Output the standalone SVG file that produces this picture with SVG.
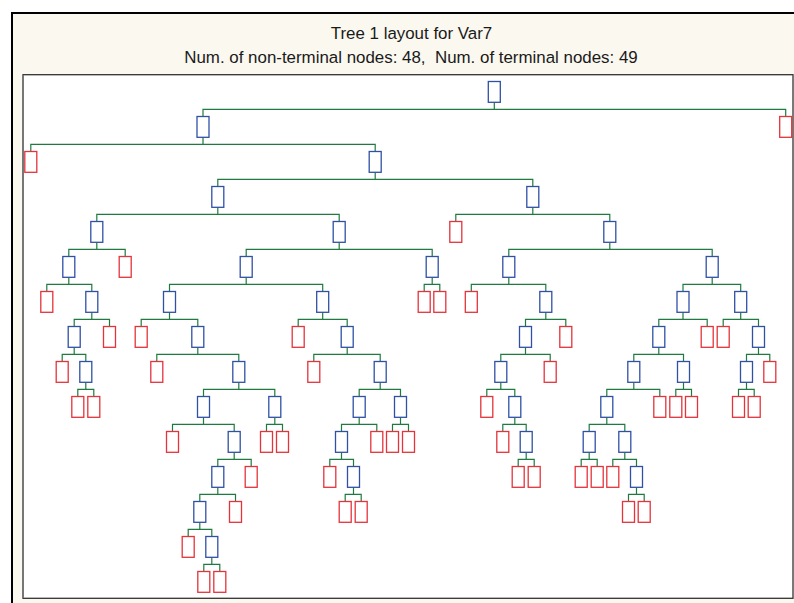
<svg xmlns="http://www.w3.org/2000/svg" width="794" height="603" viewBox="0 0 794 603">
<style>
  .title { font-family: "Liberation Sans", Arial, sans-serif; font-size: 16.9px; fill: #1a1a1a; text-anchor: middle; }
  .b rect { fill: #ffffff; stroke: #3050a6; stroke-width: 1.3; }
  .r rect { fill: #ffffff; stroke: #e5333b; stroke-width: 1.3; }
  #connectors path { fill: none; stroke: #1f7a40; stroke-width: 1.2; }
</style>
<rect x="0" y="0" width="794" height="603" fill="#ffffff"/>
<!-- outer panel -->
<rect x="12" y="13" width="800" height="600" fill="#fbf8f0" stroke="#000000" stroke-width="2"/>
<text class="title" x="411.5" y="39">Tree 1 layout for Var7</text>
<text class="title" x="411" y="62.8" xml:space="preserve">Num. of non-terminal nodes: 48,  Num. of terminal nodes: 49</text>
<!-- plot area -->
<rect x="23" y="74.7" width="770" height="523.6" fill="#ffffff" stroke="#333333" stroke-width="1.3"/>
<line x1="23" y1="75" x2="23" y2="598" stroke="#777777" stroke-width="1.6"/>

<g id="connectors">
  <!-- level 0 -->
  <path d="M203 116.5 V109.3 H785.7 V116.5 M494.3 102.3 V109.3"/>
  <!-- level 1 -->
  <path d="M30.8 151.5 V144.3 H375.2 V151.5 M203 137.3 V144.3"/>
  <!-- level 2 -->
  <path d="M217.8 186.5 V179.3 H532.8 V186.5 M375.2 172.3 V179.3"/>
  <!-- level 3 -->
  <path d="M96.8 221.5 V214.3 H339.2 V221.5 M217.8 207.3 V214.3"/>
  <path d="M455.8 221.5 V214.3 H609.8 V221.5 M532.8 207.3 V214.3"/>
  <!-- level 4 -->
  <path d="M68.8 256.5 V249.3 H125.2 V256.5 M96.8 242.3 V249.3"/>
  <path d="M246.2 256.5 V249.3 H432.2 V256.5 M339.2 242.3 V249.3"/>
  <path d="M508.8 256.5 V249.3 H712.2 V256.5 M609.8 242.3 V249.3"/>
  <!-- level 5 -->
  <path d="M46.8 291.5 V284.3 H91.8 V291.5 M68.8 277.3 V284.3"/>
  <path d="M169.5 291.5 V284.3 H322.7 V291.5 M246.2 277.3 V284.3"/>
  <path d="M424.2 291.5 V284.3 H439.8 V291.5 M432.2 277.3 V284.3"/>
  <path d="M471.3 291.5 V284.3 H545.8 V291.5 M508.8 277.3 V284.3"/>
  <path d="M683 291.5 V284.3 H740.7 V291.5 M712.2 277.3 V284.3"/>
  <!-- level 6 -->
  <path d="M74.2 326.5 V319.3 H109.5 V326.5 M91.8 312.3 V319.3"/>
  <path d="M141.2 326.5 V319.3 H197.8 V326.5 M169.5 312.3 V319.3"/>
  <path d="M298.2 326.5 V319.3 H347.2 V326.5 M322.7 312.3 V319.3"/>
  <path d="M525.5 326.5 V319.3 H565.8 V326.5 M545.8 312.3 V319.3"/>
  <path d="M658.8 326.5 V319.3 H707.2 V326.5 M683 312.3 V319.3"/>
  <path d="M723.2 326.5 V319.3 H758.5 V326.5 M740.7 312.3 V319.3"/>
  <!-- level 7 -->
  <path d="M62.2 361.5 V354.3 H85.8 V361.5 M74.2 347.3 V354.3"/>
  <path d="M156.8 361.5 V354.3 H238.8 V361.5 M197.8 347.3 V354.3"/>
  <path d="M313.8 361.5 V354.3 H380.2 V361.5 M347.2 347.3 V354.3"/>
  <path d="M500.8 361.5 V354.3 H550.2 V361.5 M525.5 347.3 V354.3"/>
  <path d="M633.8 361.5 V354.3 H683.5 V361.5 M658.8 347.3 V354.3"/>
  <path d="M746.5 361.5 V354.3 H769.8 V361.5 M758.5 347.3 V354.3"/>
  <!-- level 8 -->
  <path d="M77.8 396.5 V389.3 H93.8 V396.5 M85.8 382.3 V389.3"/>
  <path d="M203.5 396.5 V389.3 H274.8 V396.5 M238.8 382.3 V389.3"/>
  <path d="M359.2 396.5 V389.3 H400.5 V396.5 M380.2 382.3 V389.3"/>
  <path d="M486.8 396.5 V389.3 H514.8 V396.5 M500.8 382.3 V389.3"/>
  <path d="M606.8 396.5 V389.3 H659.8 V396.5 M633.8 382.3 V389.3"/>
  <path d="M675.8 396.5 V389.3 H691.5 V396.5 M683.5 382.3 V389.3"/>
  <path d="M738.5 396.5 V389.3 H754.2 V396.5 M746.5 382.3 V389.3"/>
  <!-- level 9 -->
  <path d="M172.5 431.5 V424.3 H234.2 V431.5 M203.5 417.3 V424.3"/>
  <path d="M266.5 431.5 V424.3 H282.5 V431.5 M274.8 417.3 V424.3"/>
  <path d="M341.5 431.5 V424.3 H376.8 V431.5 M359.2 417.3 V424.3"/>
  <path d="M392.5 431.5 V424.3 H408.5 V431.5 M400.5 417.3 V424.3"/>
  <path d="M502.8 431.5 V424.3 H526.2 V431.5 M514.8 417.3 V424.3"/>
  <path d="M589.2 431.5 V424.3 H624.8 V431.5 M606.8 417.3 V424.3"/>
  <!-- level 10 -->
  <path d="M217.8 466.5 V459.3 H251.2 V466.5 M234.2 452.3 V459.3"/>
  <path d="M329.8 466.5 V459.3 H353.5 V466.5 M341.5 452.3 V459.3"/>
  <path d="M518.2 466.5 V459.3 H534.2 V466.5 M526.2 452.3 V459.3"/>
  <path d="M581.2 466.5 V459.3 H597.2 V466.5 M589.2 452.3 V459.3"/>
  <path d="M612.8 466.5 V459.3 H636.5 V466.5 M624.8 452.3 V459.3"/>
  <!-- level 11 -->
  <path d="M199.8 501.5 V494.3 H235.5 V501.5 M217.8 487.3 V494.3"/>
  <path d="M345.2 501.5 V494.3 H361.2 V501.5 M353.5 487.3 V494.3"/>
  <path d="M628.5 501.5 V494.3 H644.2 V501.5 M636.5 487.3 V494.3"/>
  <!-- level 12 -->
  <path d="M188.2 536.5 V529.3 H211.8 V536.5 M199.8 522.3 V529.3"/>
  <!-- level 13 -->
  <path d="M203.8 571.5 V564.3 H219.8 V571.5 M211.8 557.3 V564.3"/>
</g>

<!-- split nodes -->
<g id="n0" class="b"><rect x="488.3" y="81.5" width="12" height="20.8"/></g>
<g id="n1" class="b"><rect x="197" y="116.5" width="12" height="20.8"/></g>
<g id="n2" class="b"><rect x="369.2" y="151.5" width="12" height="20.8"/></g>
<g id="n3" class="b"><rect x="211.8" y="186.5" width="12" height="20.8"/></g>
<g id="n4" class="b"><rect x="526.8" y="186.5" width="12" height="20.8"/></g>
<g id="n5" class="b"><rect x="90.8" y="221.5" width="12" height="20.8"/></g>
<g id="n6" class="b"><rect x="333.2" y="221.5" width="12" height="20.8"/></g>
<g id="n7" class="b"><rect x="603.8" y="221.5" width="12" height="20.8"/></g>
<g id="n8" class="b"><rect x="62.8" y="256.5" width="12" height="20.8"/></g>
<g id="n9" class="b"><rect x="240.2" y="256.5" width="12" height="20.8"/></g>
<g id="n10" class="b"><rect x="426.2" y="256.5" width="12" height="20.8"/></g>
<g id="n11" class="b"><rect x="502.8" y="256.5" width="12" height="20.8"/></g>
<g id="n12" class="b"><rect x="706.2" y="256.5" width="12" height="20.8"/></g>
<g id="n13" class="b"><rect x="85.8" y="291.5" width="12" height="20.8"/></g>
<g id="n14" class="b"><rect x="163.5" y="291.5" width="12" height="20.8"/></g>
<g id="n15" class="b"><rect x="316.7" y="291.5" width="12" height="20.8"/></g>
<g id="n16" class="b"><rect x="539.8" y="291.5" width="12" height="20.8"/></g>
<g id="n17" class="b"><rect x="677" y="291.5" width="12" height="20.8"/></g>
<g id="n18" class="b"><rect x="734.7" y="291.5" width="12" height="20.8"/></g>
<g id="n19" class="b"><rect x="68.2" y="326.5" width="12" height="20.8"/></g>
<g id="n20" class="b"><rect x="191.8" y="326.5" width="12" height="20.8"/></g>
<g id="n21" class="b"><rect x="341.2" y="326.5" width="12" height="20.8"/></g>
<g id="n22" class="b"><rect x="519.5" y="326.5" width="12" height="20.8"/></g>
<g id="n23" class="b"><rect x="652.8" y="326.5" width="12" height="20.8"/></g>
<g id="n24" class="b"><rect x="752.5" y="326.5" width="12" height="20.8"/></g>
<g id="n25" class="b"><rect x="79.8" y="361.5" width="12" height="20.8"/></g>
<g id="n26" class="b"><rect x="232.8" y="361.5" width="12" height="20.8"/></g>
<g id="n27" class="b"><rect x="374.2" y="361.5" width="12" height="20.8"/></g>
<g id="n28" class="b"><rect x="494.8" y="361.5" width="12" height="20.8"/></g>
<g id="n29" class="b"><rect x="627.8" y="361.5" width="12" height="20.8"/></g>
<g id="n30" class="b"><rect x="677.5" y="361.5" width="12" height="20.8"/></g>
<g id="n31" class="b"><rect x="740.5" y="361.5" width="12" height="20.8"/></g>
<g id="n32" class="b"><rect x="197.5" y="396.5" width="12" height="20.8"/></g>
<g id="n33" class="b"><rect x="268.8" y="396.5" width="12" height="20.8"/></g>
<g id="n34" class="b"><rect x="353.2" y="396.5" width="12" height="20.8"/></g>
<g id="n35" class="b"><rect x="394.5" y="396.5" width="12" height="20.8"/></g>
<g id="n36" class="b"><rect x="508.8" y="396.5" width="12" height="20.8"/></g>
<g id="n37" class="b"><rect x="600.8" y="396.5" width="12" height="20.8"/></g>
<g id="n38" class="b"><rect x="228.2" y="431.5" width="12" height="20.8"/></g>
<g id="n39" class="b"><rect x="335.5" y="431.5" width="12" height="20.8"/></g>
<g id="n40" class="b"><rect x="520.2" y="431.5" width="12" height="20.8"/></g>
<g id="n41" class="b"><rect x="583.2" y="431.5" width="12" height="20.8"/></g>
<g id="n42" class="b"><rect x="618.8" y="431.5" width="12" height="20.8"/></g>
<g id="n43" class="b"><rect x="211.8" y="466.5" width="12" height="20.8"/></g>
<g id="n44" class="b"><rect x="347.5" y="466.5" width="12" height="20.8"/></g>
<g id="n45" class="b"><rect x="630.5" y="466.5" width="12" height="20.8"/></g>
<g id="n46" class="b"><rect x="193.8" y="501.5" width="12" height="20.8"/></g>
<g id="n47" class="b"><rect x="205.8" y="536.5" width="12" height="20.8"/></g>

<!-- terminal nodes -->
<g id="t1" class="r"><rect x="779.7" y="116.5" width="12" height="20.8"/></g>
<g id="t2" class="r"><rect x="24.8" y="151.5" width="12" height="20.8"/></g>
<g id="t3" class="r"><rect x="449.8" y="221.5" width="12" height="20.8"/></g>
<g id="t4" class="r"><rect x="119.2" y="256.5" width="12" height="20.8"/></g>
<g id="t5" class="r"><rect x="40.8" y="291.5" width="12" height="20.8"/></g>
<g id="t6" class="r"><rect x="418.2" y="291.5" width="12" height="20.8"/></g>
<g id="t7" class="r"><rect x="433.8" y="291.5" width="12" height="20.8"/></g>
<g id="t8" class="r"><rect x="465.3" y="291.5" width="12" height="20.8"/></g>
<g id="t9" class="r"><rect x="103.5" y="326.5" width="12" height="20.8"/></g>
<g id="t10" class="r"><rect x="135.2" y="326.5" width="12" height="20.8"/></g>
<g id="t11" class="r"><rect x="292.2" y="326.5" width="12" height="20.8"/></g>
<g id="t12" class="r"><rect x="559.8" y="326.5" width="12" height="20.8"/></g>
<g id="t13" class="r"><rect x="701.2" y="326.5" width="12" height="20.8"/></g>
<g id="t14" class="r"><rect x="717.2" y="326.5" width="12" height="20.8"/></g>
<g id="t15" class="r"><rect x="56.2" y="361.5" width="12" height="20.8"/></g>
<g id="t16" class="r"><rect x="150.8" y="361.5" width="12" height="20.8"/></g>
<g id="t17" class="r"><rect x="307.8" y="361.5" width="12" height="20.8"/></g>
<g id="t18" class="r"><rect x="544.2" y="361.5" width="12" height="20.8"/></g>
<g id="t19" class="r"><rect x="763.8" y="361.5" width="12" height="20.8"/></g>
<g id="t20" class="r"><rect x="71.8" y="396.5" width="12" height="20.8"/></g>
<g id="t21" class="r"><rect x="87.8" y="396.5" width="12" height="20.8"/></g>
<g id="t22" class="r"><rect x="480.8" y="396.5" width="12" height="20.8"/></g>
<g id="t23" class="r"><rect x="653.8" y="396.5" width="12" height="20.8"/></g>
<g id="t24" class="r"><rect x="669.8" y="396.5" width="12" height="20.8"/></g>
<g id="t25" class="r"><rect x="685.5" y="396.5" width="12" height="20.8"/></g>
<g id="t26" class="r"><rect x="732.5" y="396.5" width="12" height="20.8"/></g>
<g id="t27" class="r"><rect x="748.2" y="396.5" width="12" height="20.8"/></g>
<g id="t28" class="r"><rect x="166.5" y="431.5" width="12" height="20.8"/></g>
<g id="t29" class="r"><rect x="260.5" y="431.5" width="12" height="20.8"/></g>
<g id="t30" class="r"><rect x="276.5" y="431.5" width="12" height="20.8"/></g>
<g id="t31" class="r"><rect x="370.8" y="431.5" width="12" height="20.8"/></g>
<g id="t32" class="r"><rect x="386.5" y="431.5" width="12" height="20.8"/></g>
<g id="t33" class="r"><rect x="402.5" y="431.5" width="12" height="20.8"/></g>
<g id="t34" class="r"><rect x="496.8" y="431.5" width="12" height="20.8"/></g>
<g id="t35" class="r"><rect x="245.2" y="466.5" width="12" height="20.8"/></g>
<g id="t36" class="r"><rect x="323.8" y="466.5" width="12" height="20.8"/></g>
<g id="t37" class="r"><rect x="512.2" y="466.5" width="12" height="20.8"/></g>
<g id="t38" class="r"><rect x="528.2" y="466.5" width="12" height="20.8"/></g>
<g id="t39" class="r"><rect x="575.2" y="466.5" width="12" height="20.8"/></g>
<g id="t40" class="r"><rect x="591.2" y="466.5" width="12" height="20.8"/></g>
<g id="t41" class="r"><rect x="606.8" y="466.5" width="12" height="20.8"/></g>
<g id="t42" class="r"><rect x="229.5" y="501.5" width="12" height="20.8"/></g>
<g id="t43" class="r"><rect x="339.2" y="501.5" width="12" height="20.8"/></g>
<g id="t44" class="r"><rect x="355.2" y="501.5" width="12" height="20.8"/></g>
<g id="t45" class="r"><rect x="622.5" y="501.5" width="12" height="20.8"/></g>
<g id="t46" class="r"><rect x="638.2" y="501.5" width="12" height="20.8"/></g>
<g id="t47" class="r"><rect x="182.2" y="536.5" width="12" height="20.8"/></g>
<g id="t48" class="r"><rect x="197.8" y="571.5" width="12" height="20.8"/></g>
<g id="t49" class="r"><rect x="213.8" y="571.5" width="12" height="20.8"/></g>
</svg>
